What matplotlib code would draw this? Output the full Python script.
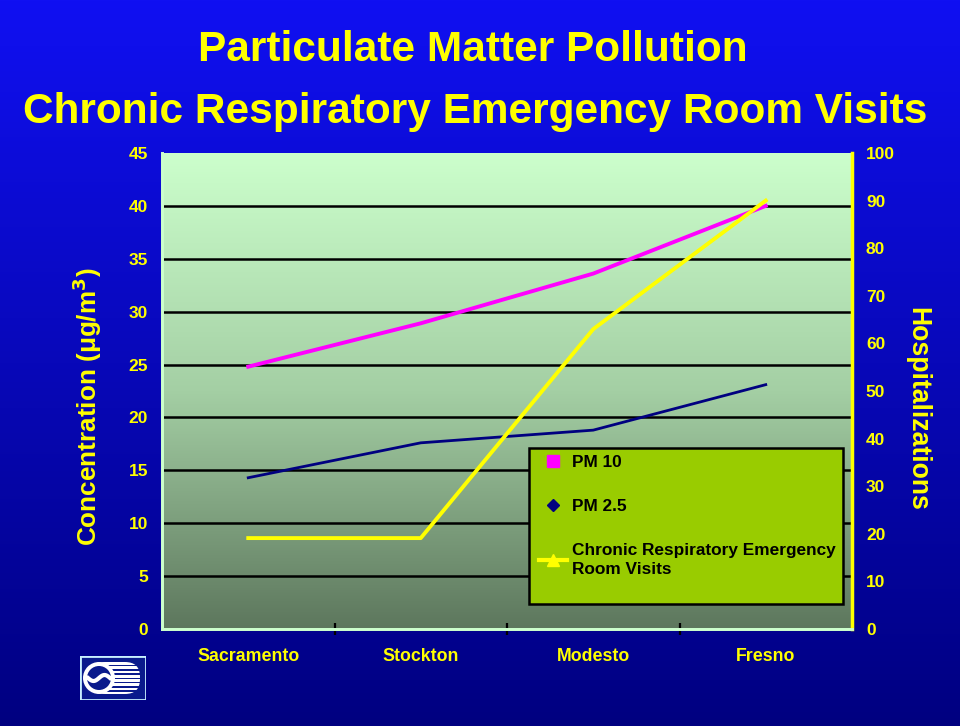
import numpy as np
import matplotlib.pyplot as plt
from matplotlib.lines import Line2D
from matplotlib.patches import Rectangle, Circle, FancyBboxPatch
from matplotlib.colors import LinearSegmentedColormap

# data
cities = ["Sacramento", "Stockton", "Modesto", "Fresno"]
pm10 = [24.8, 28.9, 33.6, 40.0]
pm25 = [14.3, 17.6, 18.8, 23.1]
er_visits = [19.1, 19.1, 63.0, 90.0]
left_ticks = list(range(0, 50, 5))
right_ticks = list(range(0, 110, 10))

plt.rcParams['font.family'] = ['Liberation Sans', 'DejaVu Sans']
plt.rcParams['font.weight'] = 'bold'

fig = plt.figure(figsize=(9.6, 7.26), dpi=100)

# blue gradient background for the whole slide
bg = fig.add_axes([0, 0, 1, 1], zorder=-10)
bg_cmap = LinearSegmentedColormap.from_list("bg", ["#000080", "#1010f2"])
bg.imshow(np.linspace(0, 1, 256).reshape(-1, 1), aspect='auto', cmap=bg_cmap,
          origin='lower', extent=[0, 1, 0, 1])
bg.set_axis_off()

# titles
fig.text(0.492, 1 - 50/726, "Particulate Matter Pollution", color="#ffff00",
         fontsize=30.5, fontweight='bold', ha='center', va='center')
fig.text(0.495, 1 - 112/726, "Chronic Respiratory Emergency Room Visits", color="#ffff00",
         fontsize=30.5, fontweight='bold', ha='center', va='center')

ax = fig.add_axes([162/960, 1 - 629/726, 690/960, 476/726])
ax.set_facecolor('none')
x = np.arange(len(cities))

# green gradient inside the plot area
pa_cmap = LinearSegmentedColormap.from_list("pa", ["#5d775d", "#a4cfa4", "#ccffcc"])
ax.imshow(np.linspace(0, 1, 256).reshape(-1, 1), aspect='auto', cmap=pa_cmap,
          origin='lower', extent=[-0.5, 3.5, 0, 45], zorder=0)

ax.set_xlim(-0.5, 3.5)
ax.set_ylim(0, 45)
for v in left_ticks[1:-1]:
    ax.axhline(v, color='black', lw=1.8, zorder=1)

ax.plot(x, pm10, color='#ff00ff', lw=2.8, zorder=3)
ax.plot(x, pm25, color='#000080', lw=2.0, zorder=3)

ax2 = ax.twinx()
ax2.set_ylim(0, 100)
ax2.plot(x, er_visits, color='#ffff00', lw=2.8, zorder=3)

# axes styling
ax.set_yticks(left_ticks)
ax.tick_params(axis='y', length=0, colors='#ffff00', labelsize=12.5, pad=10)
ax.set_xticks(x)
ax.set_xticklabels(cities)
ax.tick_params(axis='x', length=0, colors='#ffff00', labelsize=12.8, pad=14)
ax.set_xticks([0.5, 1.5, 2.5], minor=True)
ax.tick_params(axis='x', which='minor', length=8, width=1.6, color='black', direction='inout')
for lab in ax.get_xticklabels() + ax.get_yticklabels():
    lab.set_fontweight('bold')

ax2.set_yticks(right_ticks)
ax2.tick_params(axis='y', length=0, colors='#ffff00', labelsize=12.5, pad=10)
for lab in ax2.get_yticklabels():
    lab.set_fontweight('bold')

for a in (ax, ax2):
    a.spines['top'].set_visible(False)
    a.spines['left'].set_color('#ccffcc')
    a.spines['left'].set_linewidth(2)
    a.spines['bottom'].set_color('#ccffcc')
    a.spines['bottom'].set_linewidth(2)
ax2.spines['right'].set_color('#ffff00')
ax2.spines['right'].set_linewidth(2.5)
ax.spines['right'].set_visible(False)

ax.set_ylabel("Concentration (\u03bcg/m$^\\mathbf{3}$)", color='#ffff00', fontsize=18.8,
              fontweight='bold')
ax.yaxis.set_label_coords(-0.084, 0.468)
ax2.set_ylabel("Hospitalizations", color='#ffff00', fontsize=19.2, fontweight='bold',
               rotation=-90)
ax2.yaxis.set_label_coords(1.113, 0.462)

# legend box, drawn as a plain rectangle under a frameless legend
ax2.add_patch(Rectangle((529/960, 1 - 604/726), 314/960, 156/726,
                        transform=fig.transFigure, facecolor='#99cc00',
                        edgecolor='black', lw=1.8, zorder=9, clip_on=False))
handles = [
    Line2D([], [], ls='none', marker='s', color='#ff00ff', markersize=9),
    Line2D([], [], ls='none', marker='D', color='#000080', markersize=6),
    Line2D([], [], color='#ffff00', lw=3, marker='^', markersize=8),
]
labels = ["PM 10", "PM 2.5", "Chronic Respiratory Emergency\nRoom Visits"]
leg = ax2.legend(handles, labels, loc='upper left',
                 bbox_to_anchor=(534/960, 1 - 450/726),
                 bbox_transform=fig.transFigure, borderaxespad=0,
                 frameon=False, handlelength=1.6,
                 handletextpad=0.3, labelspacing=1.68, borderpad=0.3,
                 prop={'weight': 'bold', 'size': 12.4})
leg.get_texts()[2].set_linespacing(1.35)
leg.set_zorder(10)

# logo in the lower left corner
lg = fig.add_axes([80/960, 1 - 700/726, 66/960, 44/726])
lg.set_xlim(0, 66)
lg.set_ylim(0, 44)
lg.set_axis_off()
lg.add_patch(Rectangle((0, 0), 66, 44, facecolor='#0a1a8c', edgecolor='#c8f0ff', lw=2))
lg.add_patch(FancyBboxPatch((10, 6), 50, 32, boxstyle="round,pad=0,rounding_size=15",
                            facecolor='white', edgecolor='none'))
for k in range(7):
    lg.add_patch(Rectangle((22, 8 + k * 4.3), 40, 1.6, facecolor='#0a1a8c', edgecolor='none'))
lg.add_patch(Circle((19, 22), 16, facecolor='white', edgecolor='none'))
lg.add_patch(Circle((19, 22), 12, facecolor='#0a1a8c', edgecolor='none'))
tt = np.linspace(-1, 1, 50)
lg.plot(19 + tt * 11, 22 + np.sin(tt * np.pi) * 3, color='white', lw=3)

fig.savefig("out.png", dpi=100)
